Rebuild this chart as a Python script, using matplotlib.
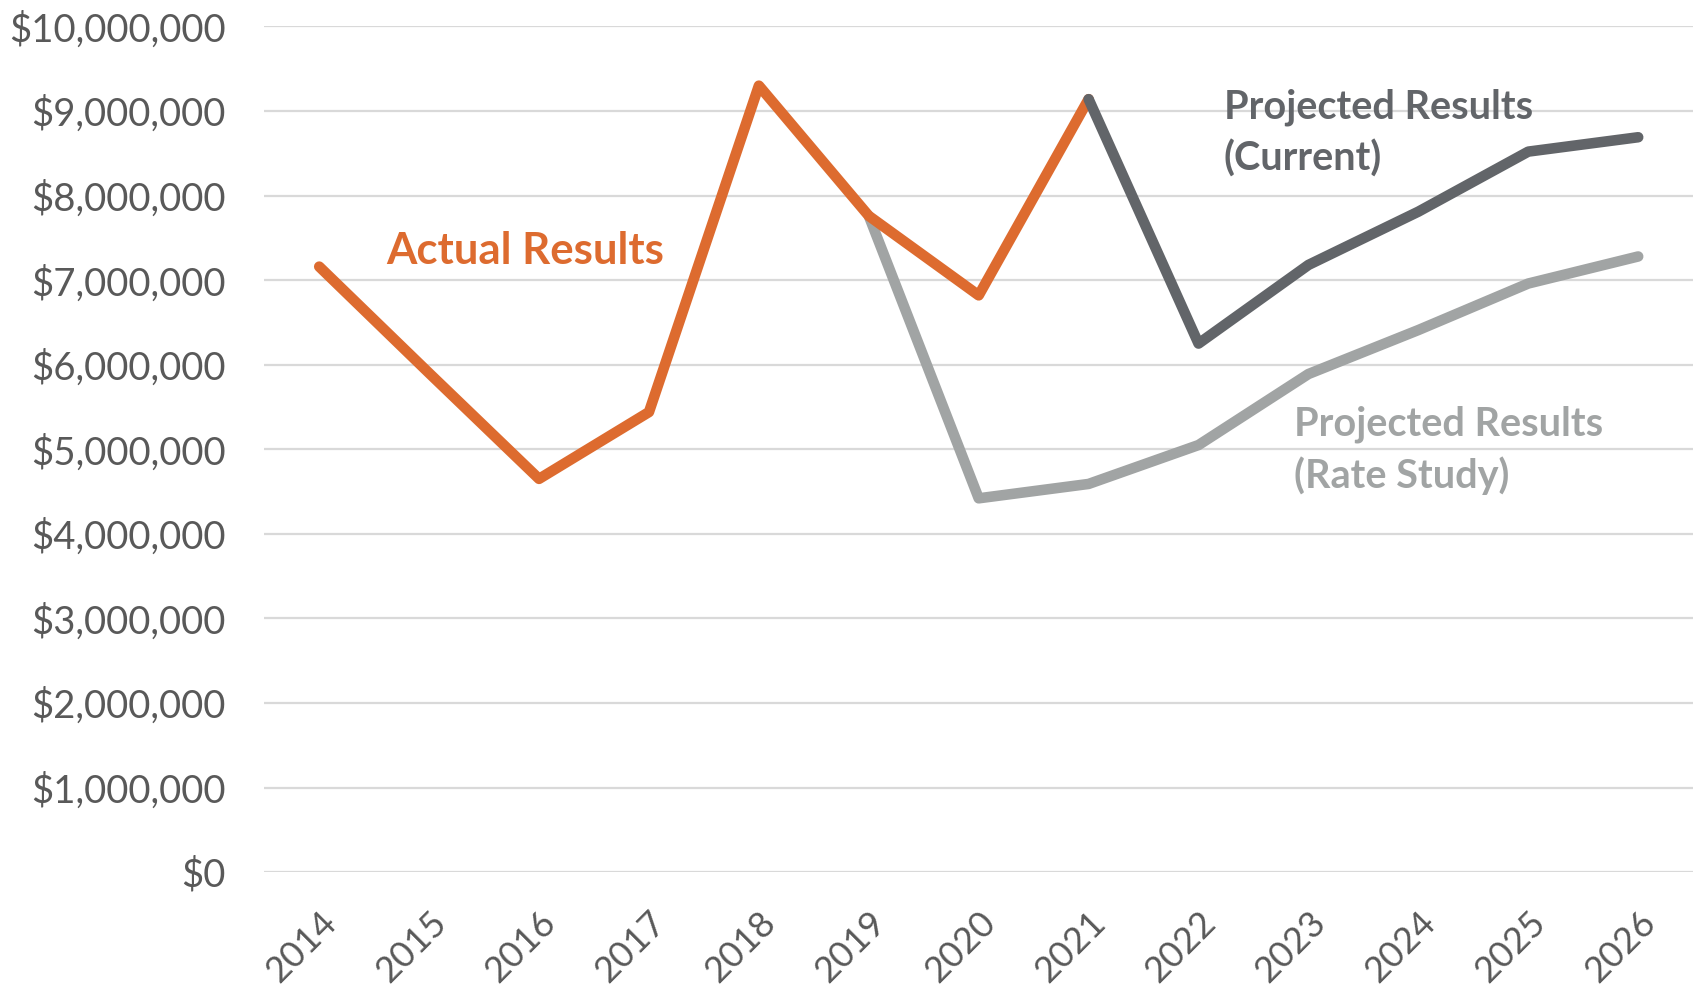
import numpy as np
import matplotlib.pyplot as plt
from matplotlib.ticker import StrMethodFormatter

plt.rcParams['font.family'] = ['Lato', 'DejaVu Sans']

nan = np.nan
years = [str(y) for y in range(2014, 2027)]
actual = [7160000, 5900000, 4650000, 5440000, 9300000, 7760000, 6820000, 9140000,
          nan, nan, nan, nan, nan]
current = [nan, nan, nan, nan, nan, nan, nan, 9140000,
           6250000, 7180000, 7810000, 8520000, 8690000]
rate_study = [nan, nan, nan, nan, nan, 7760000, 4420000, 4590000,
              5050000, 5890000, 6410000, 6960000, 7280000]

orange = '#DD6B2F'
dark = '#626569'
light = '#A1A4A4'
label_col = '#595959'

fig = plt.figure(figsize=(16.94, 9.91), dpi=100)
ax = fig.add_axes([0.156, 0.12, 0.8435, 0.8533])

x = np.arange(len(years))
kw = dict(lw=7.6, solid_capstyle='round', solid_joinstyle='round')
ax.plot(x, rate_study, color=light, **kw)
ax.plot(x, actual, color=orange, **kw)
ax.plot(x, current, color=dark, **kw)

ax.set_xlim(-0.5, len(years) - 0.5)
ax.set_ylim(0, 10000000)
ax.set_yticks(np.arange(0, 10000001, 1000000))
ax.yaxis.set_major_formatter(StrMethodFormatter('${x:,.0f}'))
ax.set_xticks(x)
ax.set_xticklabels(years, rotation=45, ha='right', rotation_mode='anchor')

ax.grid(axis='y', color='#D9D9D9', lw=1.6)
ax.set_axisbelow(True)
for s in ax.spines.values():
    s.set_visible(False)
ax.tick_params(axis='y', length=0, pad=28, labelsize=27.5, labelcolor=label_col)
ax.tick_params(axis='x', length=0, pad=24, labelsize=26, labelcolor=label_col)

# series labels placed next to their lines
ax.text(0.61, 7350000, 'Actual Results', color=orange, fontsize=31.5,
        fontweight='bold', va='center', ha='left')
ax.text(8.23, 8740000, 'Projected Results\n(Current)', color=dark, fontsize=28.5,
        fontweight='bold', va='center', ha='left', linespacing=1.42)
ax.text(8.87, 4990000, 'Projected Results\n(Rate Study)', color=light, fontsize=28.5,
        fontweight='bold', va='center', ha='left', linespacing=1.42)

fig.savefig('out.png', dpi=100)
